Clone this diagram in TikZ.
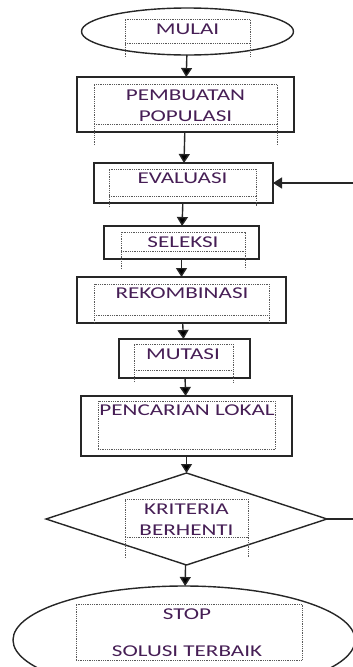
\documentclass[tikz,border=0pt]{standalone}
\usepackage{fontspec}
\setmainfont{Carlito}[FakeStretch=1.4]
\usetikzlibrary{positioning,shapes.geometric,arrows.meta}
\definecolor{txtcol}{RGB}{70,30,85}

\begin{document}
\begin{tikzpicture}[x=1pt,y=-1pt,>={Triangle[length=9pt,width=11pt]},line width=1.4pt,
    stepbox/.style={rectangle,draw=black!85,inner sep=0pt,outer sep=0pt},
    endbox/.style={ellipse,draw=black!85,inner sep=0pt,outer sep=0pt},
    askbox/.style={diamond,draw=black!85,inner sep=0pt,outer sep=0pt},
    txtlabel/.style={font=\fontsize{16.5}{21}\selectfont,text=txtcol,align=center,inner sep=0pt},
    txtframe/.style={draw=black!65,line width=0.9pt,dash pattern=on 0.9pt off 0.9pt}]

            \path[use as bounding box,clip] (0,0) rectangle (353,667);

            \node[endbox, minimum width=212pt, minimum height=47pt] (start) at (187.5,31.5) {};
            \node[stepbox, minimum width=217pt, minimum height=55pt] (pop) [below=22pt of start, xshift=-2pt] {};
            \node[stepbox, minimum width=179pt, minimum height=40pt] (eval) [below=31pt of pop, xshift=-2pt] {};
            \node[stepbox, minimum width=155pt, minimum height=33pt] (sel) [below=23pt of eval, xshift=-2pt] {};
            \node[stepbox, minimum width=209pt, minimum height=46pt] (rek) [below=18pt of sel] {};
            \node[stepbox, minimum width=131pt, minimum height=39pt] (mut) [below=16pt of rek, xshift=3pt] {};
            \node[stepbox, minimum width=211pt, minimum height=60pt] (cari) [below=18pt of mut, xshift=2pt] {};
            \node[askbox, minimum width=281pt, minimum height=92pt] (krit) [below=17pt of cari] {};
            \node[endbox, minimum width=342pt, minimum height=108pt] (stop) [below=21pt of krit, xshift=-2.5pt] {};

            % dotted text box frames
            \foreach \xa/\ya/\xb/\yb/\yl in {125/19/250/43/57, 94/84/277/124/145, 109/169/256/196/207,
                121/232/245/251/269, 94/284/269/315/323, 134/344/233/370/382,
                98/401/275/449/449, 125/499/248/537/558, 76/604/302/660/660}
                \draw[txtframe] (\xa,\yl) -- (\xa,\ya) -- (\xb,\ya) -- (\xb,\yl) (\xa,\yb) -- (\xb,\yb);

            \node[txtlabel] (start-t) at ([yshift=2.5pt]start.center) {MULAI};
            \node[txtlabel] (pop-t) at ([yshift=-1.5pt]pop.center) {PEMBUATAN\\POPULASI};
            \node[txtlabel] (eval-t) at ([xshift=-1pt, yshift=5pt]eval.center) {EVALUASI};
            \node[txtlabel] (sel-t) at ([xshift=1.5pt, yshift=0.5pt]sel.center) {SELEKSI};
            \node[txtlabel] (rek-t) at ([xshift=0.5pt, yshift=7pt]rek.center) {REKOMBINASI};
            \node[txtlabel] (mut-t) at ([xshift=-1.5pt, yshift=4.5pt]mut.center) {MUTASI};
            \node[txtlabel] (cari-t) at ([xshift=0.5pt, yshift=16pt]cari.center) {PENCARIAN LOKAL};
            \node[txtlabel] (krit-t) at ([yshift=-0.5pt]krit.center) {KRITERIA\\BERHENTI};
            \node[txtlabel] (stop-t) at ([xshift=3pt, yshift=7.5pt]stop.center) {STOP\\[16pt]SOLUSI TERBAIK};

            \path[->, draw=black!85]
                (start) edge (pop)
                (pop) edge (eval)
                (eval) edge (sel)
                (sel) edge (rek)
                (rek) edge (mut)
                (mut) edge (cari)
                (cari) edge (krit)
                (krit) edge (stop);

            % loop back to evaluation
            \coordinate (loop-b) at (362,519);
            \coordinate (loop-t) at (362,183);
            \draw[black!85] (krit.east) -- (loop-b) -- (loop-t);
            \draw[->, black!85] (loop-t) -- (eval.east);
\end{tikzpicture}
\end{document}
